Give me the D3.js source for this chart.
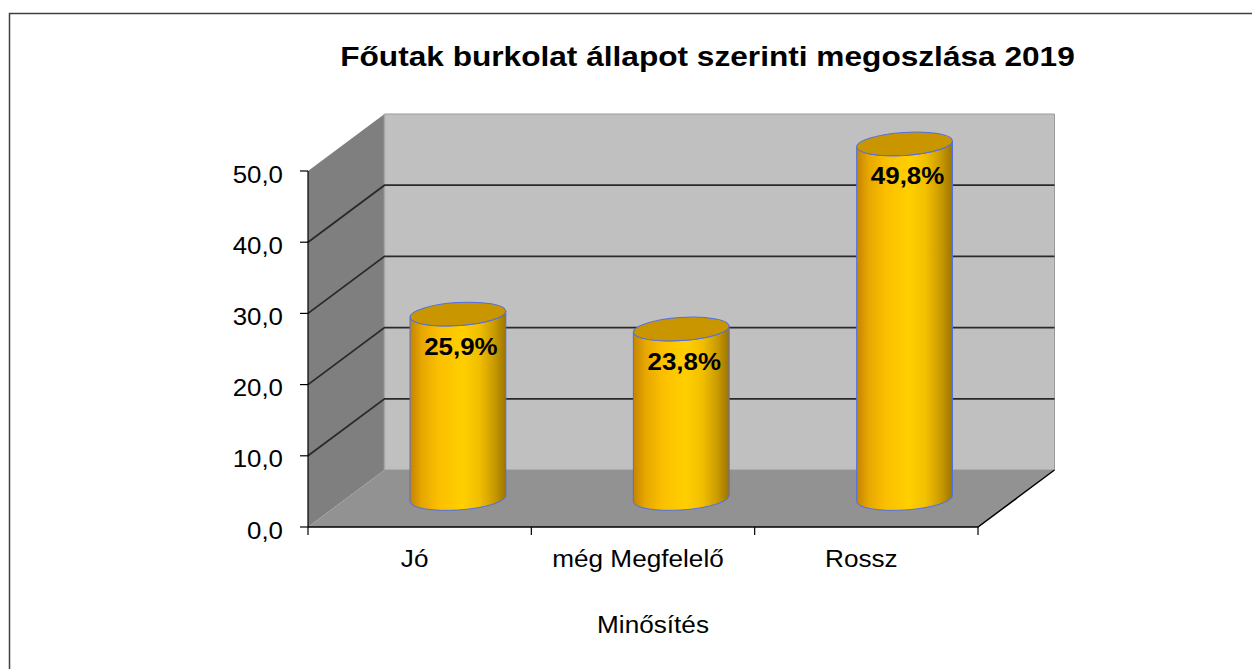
<!DOCTYPE html>
<html>
<head>
<meta charset="utf-8">
<script src="https://cdn.jsdelivr.net/npm/d3@7"></script>
<style>
  html, body { margin: 0; padding: 0; background: #fff; }
  svg { display: block; }
  text { font-family: "Liberation Sans", Arial, sans-serif; fill: #000; }
</style>
</head>
<body>
<div id="app"></div>
<script>
const title = 'Főutak burkolat állapot szerinti megoszlása 2019';
const axisTitle = 'Minősítés';
const categories = ['Jó', 'még Megfelelő', 'Rossz'];
const values = [25.9, 23.8, 49.8];
const valueLabels = ['25,9%', '23,8%', '49,8%'];
const yTicks = [0, 10, 20, 30, 40, 50];

const width = 1252;
const height = 669;
const depth = { x: 76.5, y: -57 };
const cyl = { rx: 48, ry: 11.5, rot: -3.75 };

const svg = d3.select('#app').append('svg')
  .attr('width', width)
  .attr('height', height);

const defs = svg.append('defs');
const grad = defs.append('linearGradient')
  .attr('id', 'cylSide')
  .attr('x1', 0).attr('x2', 1).attr('y1', 0).attr('y2', 0);
[
  [0, '#c48400'], [0.12, '#e6a600'], [0.3, '#fbbf00'], [0.55, '#ffcf00'],
  [0.72, '#f2bf00'], [0.88, '#c99a00'], [1, '#9c7400']
].forEach(([o, c]) => grad.append('stop').attr('offset', o).attr('stop-color', c));

// chart frame
svg.append('rect')
  .attr('x', 9.5).attr('y', 13.5)
  .attr('width', 1300).attr('height', 700)
  .attr('fill', 'none')
  .attr('stroke', '#404040')
  .attr('stroke-width', 1.5);

const x = d3.scaleBand().domain(categories).range([308, 978]);
const y = d3.scaleLinear().domain([0, 50]).range([527, 171]);

const [x0, x1] = x.range();
const yTop = y(50);
const yBot = y(0);
const pts = a => a.map(p => p.join(',')).join(' ');

// left wall, back wall, floor
svg.append('polygon')
  .attr('points', pts([[x0, yTop], [x0 + depth.x, yTop + depth.y], [x0 + depth.x, yBot + depth.y], [x0, yBot]]))
  .attr('fill', '#7f7f7f');

svg.append('polygon')
  .attr('points', pts([[x0 + depth.x, yTop + depth.y], [x1 + depth.x, yTop + depth.y], [x1 + depth.x, yBot + depth.y], [x0 + depth.x, yBot + depth.y]]))
  .attr('fill', '#c0c0c0')
  .attr('stroke', '#9a9a9a')
  .attr('stroke-width', 1);

svg.append('polygon')
  .attr('points', pts([[x0, yBot], [x1, yBot], [x1 + depth.x, yBot + depth.y], [x0 + depth.x, yBot + depth.y]]))
  .attr('fill', '#929292');

svg.append('line')
  .attr('x1', x0 + depth.x).attr('x2', x0 + depth.x)
  .attr('y1', yTop + depth.y).attr('y2', yBot + depth.y)
  .attr('stroke', '#a6a6a6').attr('stroke-width', 1.5);

// gridlines
const grid = svg.append('g')
  .attr('stroke', '#2a2a2a')
  .attr('stroke-width', 1.8)
  .attr('fill', 'none');

yTicks.filter(t => t > 0 && t < 50).forEach(t => {
  grid.append('polyline')
    .attr('points', pts([[x0, y(t)], [x0 + depth.x, y(t) + depth.y], [x1 + depth.x, y(t) + depth.y]]));
});

// floor edges
svg.append('polyline')
  .attr('points', pts([[x0, yBot], [x1, yBot], [x1 + depth.x, yBot + depth.y]]))
  .attr('fill', 'none')
  .attr('stroke', '#000')
  .attr('stroke-width', 1.5);

// y axis
svg.append('line')
  .attr('x1', x0).attr('x2', x0)
  .attr('y1', yTop).attr('y2', yBot)
  .attr('stroke', '#000').attr('stroke-width', 1.2);

const fmt = v => d3.format('.1f')(v).replace('.', ',');

svg.selectAll('.ytick').data(yTicks).enter().append('line')
  .attr('x1', x0 - 8).attr('x2', x0)
  .attr('y1', d => y(d)).attr('y2', d => y(d))
  .attr('stroke', '#000').attr('stroke-width', 1.2);

svg.selectAll('.ylabel').data(yTicks).enter().append('text')
  .attr('transform', d => `translate(283,${y(d) + 11.5}) scale(1.1,1)`)
  .attr('text-anchor', 'end')
  .style('font-size', '23.5px')
  .text(fmt);

// x axis ticks and labels
const xTickPos = categories.map(c => x(c)).concat([x1]);
svg.selectAll('.xtick').data(xTickPos).enter().append('line')
  .attr('x1', d => d).attr('x2', d => d)
  .attr('y1', yBot).attr('y2', yBot + 8)
  .attr('stroke', '#000').attr('stroke-width', 1.2);

svg.selectAll('.xlabel').data(categories).enter().append('text')
  .attr('transform', d => `translate(${x(d) + x.bandwidth() / 2 - 5},567) scale(1.09,1)`)
  .attr('text-anchor', 'middle')
  .style('font-size', '24px')
  .text(d => d);

svg.append('text')
  .attr('transform', `translate(${(x0 + x1) / 2 + 10},633) scale(1.09,1)`)
  .attr('text-anchor', 'middle')
  .style('font-size', '24px')
  .text(axisTitle);

svg.append('text')
  .attr('transform', 'translate(707.5,66) scale(1.13,1)')
  .attr('text-anchor', 'middle')
  .style('font-size', '28px')
  .style('font-weight', 'bold')
  .text(title);

// cylinders
const rad = cyl.rot * Math.PI / 180;
const ex = cyl.rx * Math.cos(rad);
const ey = cyl.rx * Math.sin(rad);

const bars = categories.map((c, i) => ({
  cx: x(c) + x.bandwidth() / 2 + depth.x / 2,
  top: y(values[i]) + depth.y / 2,
  base: y(0) + depth.y / 2,
  label: valueLabels[i]
}));

const g = svg.selectAll('.cyl').data(bars).enter().append('g');

g.append('path')
  .attr('d', d => [
    `M${d.cx - ex},${d.top - ey}`,
    `L${d.cx - ex},${d.base - ey}`,
    `A${cyl.rx},${cyl.ry} ${cyl.rot} 0 0 ${d.cx + ex},${d.base + ey}`,
    `L${d.cx + ex},${d.top + ey}`,
    `A${cyl.rx},${cyl.ry} ${cyl.rot} 0 1 ${d.cx - ex},${d.top - ey}`,
    'Z'
  ].join(' '))
  .attr('fill', 'url(#cylSide)')
  .attr('stroke', '#4f6fe8')
  .attr('stroke-width', 1);

g.append('ellipse')
  .attr('transform', d => `translate(${d.cx},${d.top}) rotate(${cyl.rot})`)
  .attr('rx', cyl.rx).attr('ry', cyl.ry)
  .attr('fill', '#c99600')
  .attr('stroke', '#4f6fe8')
  .attr('stroke-width', 1);

g.append('text')
  .attr('transform', d => `translate(${d.cx + 3},${d.top + 40.5}) scale(1.08,1)`)
  .attr('text-anchor', 'middle')
  .style('font-size', '24px')
  .style('font-weight', 'bold')
  .text(d => d.label);
</script>
</body>
</html>
